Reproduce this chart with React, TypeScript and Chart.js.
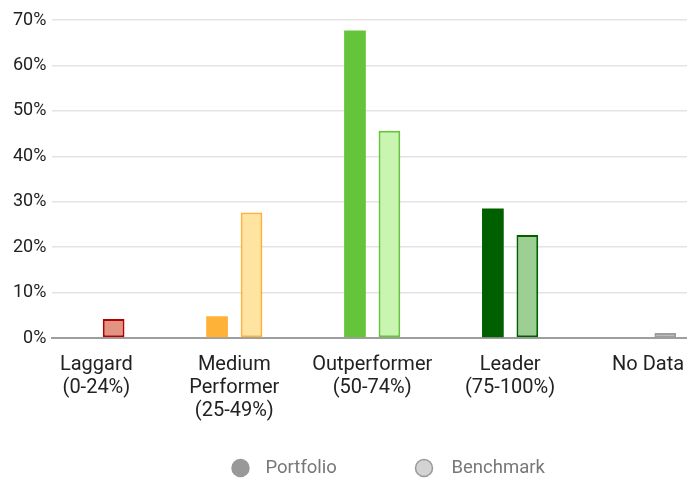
import React, { useEffect, useRef } from "react";
import { Chart, registerables } from "chart.js";

Chart.register(...registerables);

const categoryLines: string[][] = [
  ["Laggard", "(0-24%)"],
  ["Medium", "Performer", "(25-49%)"],
  ["Outperformer", "(50-74%)"],
  ["Leader", "(75-100%)"],
  ["No Data"],
];
const portfolioValues = [0, 4.8, 67.7, 28.5, 0];
const benchmarkValues = [4.2, 27.6, 45.6, 22.7, 1.1];
const yTicks = [0, 10, 20, 30, 40, 50, 60, 70];

const portfolioFill = ["#c0392b", "#ffb238", "#66c43b", "#006000", "#9e9e9e"];
const benchmarkFill = ["#e29382", "#ffe3a1", "#c8f5b0", "#9dce93", "#d4d4d4"];
const benchmarkBorder = ["#b30000", "#ffb238", "#66c43b", "#006000", "#9e9e9e"];

const legendItems = [
  { text: "Portfolio", fill: "#999999", stroke: "#999999", circleDx: -103, textDx: -78 },
  { text: "Benchmark", fill: "#d3d3d3", stroke: "#9a9a9a", circleDx: 80.5, textDx: 108 },
];

const customLegend = {
  id: "customLegend",
  afterDraw(chart: any) {
    const ctx = chart.ctx;
    const cx = chart.width / 2;
    const y = 468;
    ctx.save();
    ctx.font = "18.5px Roboto";
    ctx.textBaseline = "middle";
    ctx.textAlign = "left";
    for (const it of legendItems) {
      ctx.beginPath();
      ctx.arc(cx + it.circleDx, y, 8.5, 0, Math.PI * 2);
      ctx.fillStyle = it.fill;
      ctx.fill();
      ctx.lineWidth = 1.5;
      ctx.strokeStyle = it.stroke;
      ctx.stroke();
      ctx.fillStyle = "#777777";
      ctx.fillText(it.text, cx + it.textDx, y);
    }
    ctx.restore();
  },
};

export default function App() {
  const ref = useRef<HTMLCanvasElement | null>(null);
  useEffect(() => {
    if (!ref.current) return;
    const chart = new Chart(ref.current, {
      type: "bar",
      data: {
        datasets: [
          {
            label: "Portfolio",
            data: portfolioValues.map((v, i) => ({ x: i, y: v })),
            backgroundColor: portfolioFill,
            borderWidth: 0,
          },
          {
            label: "Benchmark",
            data: benchmarkValues.map((v, i) => ({ x: i, y: v })),
            backgroundColor: benchmarkFill,
            borderColor: benchmarkBorder,
            borderWidth: 2,
            borderSkipped: false,
          },
        ],
      },
      options: {
        animation: false,
        responsive: true,
        maintainAspectRatio: false,
        categoryPercentage: 0.5,
        barPercentage: 0.63,
        layout: { padding: { top: 20, bottom: 56, left: 7, right: 0 } },
        plugins: {
          legend: { display: false },
          tooltip: { enabled: false },
        },
        scales: {
          x: {
            type: "linear",
            offset: false,
            min: -0.3188,
            max: 4.2826,
            grid: { display: false, drawTicks: true, tickLength: 15 },
            border: { display: true, color: "#9e9e9e", width: 2 },
            afterBuildTicks: (scale: any) => {
              scale.ticks = categoryLines.map((_, i) => ({ value: i }));
            },
            ticks: {
              autoSkip: false,
              maxRotation: 0,
              padding: 0,
              color: "#222222",
              font: { family: "Roboto", size: 20, lineHeight: 1.15 },
              callback: (value: any) => categoryLines[Number(value)] ?? "",
            },
          },
          y: {
            min: 0,
            max: 70,
            afterBuildTicks: (scale: any) => {
              scale.ticks = yTicks.map((v) => ({ value: v }));
            },
            grid: { color: "#e4e4e4", lineWidth: 1.5, drawTicks: false },
            border: { display: false },
            ticks: {
              padding: 6,
              color: "#222222",
              font: { family: "Roboto", size: 18 },
              callback: (value: any) => value + "%",
            },
          },
        },
      },
      plugins: [customLegend],
    } as any);
    return () => chart.destroy();
  }, []);
  return (
    <div style={{ position: "absolute", left: 0, top: 0, width: 687, height: 478 }}>
      <canvas ref={ref} />
    </div>
  );
}
